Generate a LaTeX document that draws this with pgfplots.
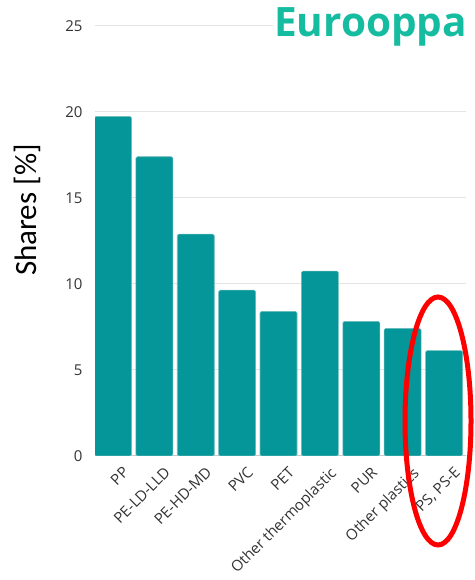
\documentclass[border=0pt]{standalone}
\usepackage{pgfplots}
\pgfplotsset{compat=1.18}
\usepackage{fontspec}
\setmainfont{Open Sans}
\newfontfamily\carlito{Carlito}
\definecolor{barfill}{RGB}{4,150,152}
\definecolor{baredge}{RGB}{110,190,190}
\definecolor{titlecol}{RGB}{22,188,160}
\definecolor{gridcol}{RGB}{228,228,228}
\definecolor{axiscol}{RGB}{200,200,200}
\definecolor{labcol}{RGB}{51,51,51}
\begin{document}
\begin{tikzpicture}
\useasboundingbox (0,0) rectangle (474pt,580pt);
\begin{axis}[
  at={(95pt,124pt)}, anchor=south west,
  scale only axis,
  width=371pt, height=430pt,
  xmin=-0.435, xmax=8.53,
  ymin=0, ymax=25,
  ytick={0,5,10,15,20,25},
  xtick=data,
  xticklabels={PP,PE-LD-LLD,PE-HD-MD,PVC,PET,Other thermoplastic,PUR,Other plastics,{PS, PS-E}},
  major tick length=0pt,
  axis x line*=bottom, axis y line*=left,
  x axis line style={-, color=axiscol, line width=1pt},
  y axis line style={draw=none},
  ymajorgrids,
  grid style={color=gridcol, line width=1pt},
  /pgf/number format/assume math mode=true,
  tick label style={font=\fontsize{15}{18}\selectfont, color=labcol},
  yticklabel style={anchor=east, xshift=-9pt},
  xticklabel style={anchor=north east, rotate=45, xshift=3pt, yshift=-10pt},
  ylabel={\carlito\fontsize{31}{36}\selectfont Shares [\%]},
  every axis y label/.style={at={(rel axis cs:0,0.572)}, xshift=-68pt, rotate=90, anchor=center},
  ybar, bar width=37pt, bar shift=0pt,
]
\addplot[fill=barfill, draw=baredge, line width=0.6pt, rounded corners=1.5pt] coordinates {
  (0,19.74) (1,17.4) (2,12.9) (3,9.64) (4,8.41) (5,10.75) (6,7.83) (7,7.42) (8,6.13)
};
\end{axis}
\node[anchor=base west, fill=white, inner sep=1pt, text=titlecol, font=\bfseries\fontsize{40.5}{46}\selectfont] at (273pt,543pt) {Eurooppa};
\draw[red, line width=5pt] (438pt,159pt) ellipse [x radius=33pt, y radius=124pt];
\end{tikzpicture}
\end{document}
